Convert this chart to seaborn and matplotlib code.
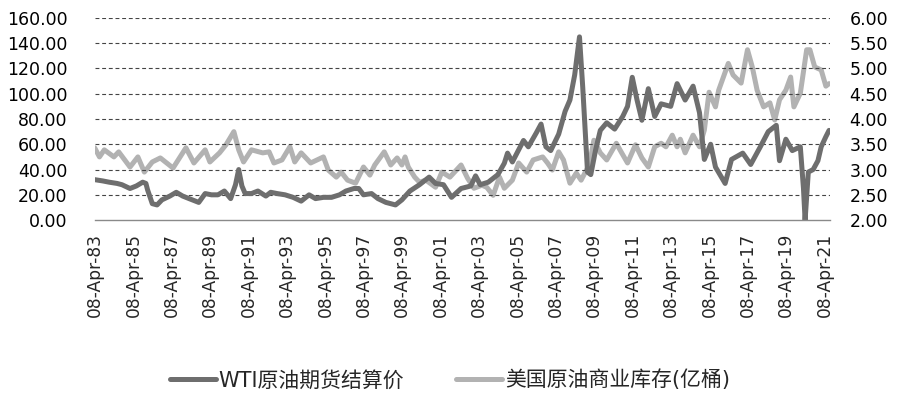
import matplotlib
matplotlib.use("Agg")
import matplotlib.pyplot as plt
import matplotlib.dates as mdates
import pandas as pd
import seaborn as sns

wti_dates = ["1983-04", "1983-09", "1984-01", "1984-06", "1984-09", "1985-02", "1985-06",
             "1985-10", "1985-12", "1986-01", "1986-04", "1986-07", "1986-10", "1987-03",
             "1987-07", "1987-11", "1988-03", "1988-09", "1989-01", "1989-05", "1989-09",
             "1990-01", "1990-05", "1990-08", "1990-10", "1990-12", "1991-02", "1991-06",
             "1991-10", "1992-03", "1992-06", "1992-10", "1993-03", "1993-08", "1994-01",
             "1994-06", "1994-10", "1995-03", "1995-08", "1996-01", "1996-05", "1996-10",
             "1997-01", "1997-04", "1997-09", "1998-01", "1998-06", "1998-12", "1999-04",
             "1999-09", "2000-03", "2000-09", "2001-01", "2001-06", "2001-11", "2002-05",
             "2002-11", "2003-02", "2003-05", "2003-10", "2004-04", "2004-08", "2004-10",
             "2005-01", "2005-08", "2005-11", "2006-04", "2006-07", "2006-10", "2007-01",
             "2007-06", "2007-10", "2008-01", "2008-04", "2008-07", "2008-09", "2008-12",
             "2009-02", "2009-05", "2009-08", "2009-12", "2010-05", "2010-10", "2011-01",
             "2011-04", "2011-07", "2011-10", "2012-02", "2012-06", "2012-10", "2013-04",
             "2013-08", "2014-01", "2014-06", "2014-10", "2015-01", "2015-05", "2015-08",
             "2016-02", "2016-06", "2017-01", "2017-06", "2017-12", "2018-05", "2018-10",
             "2018-12", "2019-04", "2019-08", "2020-01", "2020-03", "2020-04", "2020-06",
             "2020-09", "2020-12", "2021-02", "2021-05", "2021-07"]
wti_values = [32, 31, 30, 29, 28, 25, 27,
              30, 29, 24, 13, 12, 16, 19,
              22, 19, 17, 14, 21, 20, 20,
              23, 17, 28, 40, 27, 21, 21,
              23, 19, 22, 21, 20, 18, 15,
              20, 17, 18, 18, 20, 23, 25,
              25, 20, 21, 17, 14, 12, 16,
              23, 28, 34, 29, 28, 18, 25,
              27, 35, 28, 30, 36, 45, 53,
              46, 63, 58, 69, 76, 58, 55,
              68, 86, 95, 115, 145, 105, 38,
              36, 55, 71, 77, 72, 82, 90,
              113, 95, 79, 104, 82, 92, 90,
              108, 95, 106, 85, 48, 60, 42,
              29, 48, 53, 44, 58, 70, 75,
              47, 64, 55, 58, 25, 0, 38,
              40, 47, 58, 66, 71]

inv_dates = ["1983-04", "1983-07", "1983-10", "1984-04", "1984-07", "1985-02", "1985-07",
             "1985-11", "1986-04", "1986-09", "1987-05", "1988-01", "1988-06", "1989-01",
             "1989-04", "1989-10", "1990-02", "1990-07", "1990-10", "1991-01", "1991-06",
             "1992-01", "1992-05", "1992-08", "1993-01", "1993-06", "1993-09", "1994-01",
             "1994-07", "1995-03", "1995-06", "1995-11", "1996-02", "1996-06", "1996-11",
             "1997-04", "1997-08", "1997-11", "1998-05", "1998-09", "1999-01", "1999-04",
             "1999-06", "1999-08", "1999-12", "2000-03", "2000-07", "2001-01", "2001-05",
             "2001-10", "2002-05", "2002-09", "2003-01", "2003-06", "2003-09", "2004-01",
             "2004-05", "2004-08", "2005-01", "2005-05", "2005-10", "2006-02", "2006-08",
             "2006-11", "2007-02", "2007-06", "2007-09", "2008-01", "2008-05", "2008-08",
             "2008-12", "2009-02", "2009-04", "2009-08", "2009-12", "2010-06", "2010-09",
             "2011-01", "2011-06", "2011-10", "2012-02", "2012-06", "2012-10", "2013-01",
             "2013-05", "2013-08", "2013-10", "2014-01", "2014-06", "2014-10", "2015-01",
             "2015-04", "2015-08", "2015-10", "2016-04", "2016-07", "2016-12", "2017-04",
             "2017-07", "2017-10", "2018-02", "2018-06", "2018-09", "2018-12", "2019-04",
             "2019-07", "2019-09", "2020-01", "2020-05", "2020-07", "2020-10", "2021-02",
             "2021-05", "2021-07"]
inv_values = [3.43, 3.25, 3.39, 3.25, 3.35, 3.05, 3.25,
              2.95, 3.15, 3.23, 3.03, 3.43, 3.13, 3.39,
              3.15, 3.33, 3.49, 3.75, 3.39, 3.15, 3.39,
              3.33, 3.35, 3.13, 3.19, 3.45, 3.15, 3.33,
              3.13, 3.25, 2.99, 2.85, 2.95, 2.79, 2.73,
              3.05, 2.89, 3.09, 3.35, 3.09, 3.23, 3.09,
              3.25, 3.05, 2.85, 2.75, 2.79, 2.65, 2.95,
              2.85, 3.09, 2.83, 2.63, 2.69, 2.65, 2.49,
              2.85, 2.63, 2.79, 3.13, 2.95, 3.19, 3.25,
              3.13, 2.99, 3.35, 3.19, 2.73, 2.93, 2.79,
              3.03, 3.25, 3.58, 3.33, 3.19, 3.52, 3.35,
              3.13, 3.49, 3.23, 3.05, 3.45, 3.52, 3.45,
              3.68, 3.45, 3.60, 3.33, 3.68, 3.45, 3.78,
              4.53, 4.24, 4.57, 5.10, 4.87, 4.71, 5.37,
              5.03, 4.57, 4.24, 4.32, 3.98, 4.38, 4.57,
              4.83, 4.24, 4.51, 5.37, 5.37, 5.03, 4.97,
              4.65, 4.70]

left_ticks = [0, 20, 40, 60, 80, 100, 120, 140, 160]
right_ticks = [2.0, 2.5, 3.0, 3.5, 4.0, 4.5, 5.0, 5.5, 6.0]
tick_years = list(range(1983, 2022, 2))
wti_label = "WTI原油期货结算价"
inv_label = "美国原油商业库存(亿桶)"

sns.set_style("white")
plt.rcParams["font.family"] = ["DejaVu Sans", "Noto Sans CJK SC"]

wti = pd.DataFrame({"date": pd.to_datetime(wti_dates), "value": wti_values})
inv = pd.DataFrame({"date": pd.to_datetime(inv_dates), "value": inv_values})

dark = "#6e6e6e"
light = "#b2b2b2"

fig = plt.figure(figsize=(9, 3.98), dpi=100)
ax = fig.add_axes([0.1056, 0.447, 0.8167, 0.508])
ax2 = ax.twinx()

sns.lineplot(data=inv, x="date", y="value", ax=ax2, color=light, linewidth=3.6,
             label=inv_label, legend=False)
sns.lineplot(data=wti, x="date", y="value", ax=ax, color=dark, linewidth=3.6,
             label=wti_label, legend=False)
ax.set_zorder(ax2.get_zorder() + 1)
ax.patch.set_visible(False)

ax.set_ylim(0, 160)
ax2.set_ylim(2, 6)
ax.set_xlim(pd.Timestamp("1983-04-08"), pd.Timestamp("2021-07-20"))

ax.set_yticks(left_ticks)
ax.set_yticklabels([f"{v:.2f}" for v in left_ticks], fontsize=12.5)
ax2.set_yticks(right_ticks)
ax2.set_yticklabels([f"{v:.2f}" for v in right_ticks], fontsize=12.5)

ticks = [pd.Timestamp(f"{y}-04-08") for y in tick_years]
ax.set_xticks(ticks)
ax.xaxis.set_major_formatter(mdates.DateFormatter("%d-%b-%y"))
for lab in ax.get_xticklabels():
    lab.set_rotation(90)
    lab.set_fontsize(12.3)

ax.set_xlabel("")
ax.set_ylabel("")
ax2.set_ylabel("")

for a in (ax, ax2):
    for s in ("top", "left", "right", "bottom"):
        a.spines[s].set_visible(False)
ax.spines["bottom"].set_visible(True)
ax.spines["bottom"].set_color("#8a8a8a")
ax.spines["bottom"].set_linewidth(1.0)

ax.tick_params(axis="y", length=0, pad=20, colors="black")
ax2.tick_params(axis="y", length=0, pad=14, colors="black")
ax.tick_params(axis="x", length=5, width=1, color="#8a8a8a", direction="out", pad=4)

for v in left_ticks[1:]:
    ax.axhline(v, color="#444444", linewidth=0.8, linestyle=(0, (3.5, 2.5)), zorder=0)

handles = [ax.get_lines()[0], ax2.get_lines()[0]]
fig.legend(handles, [wti_label, inv_label], loc="center", bbox_to_anchor=(0.5, 0.045),
           ncol=2, frameon=False, fontsize=15, handlelength=2.2, columnspacing=2.5,
           handletextpad=0.15)

fig.savefig("out.png", dpi=100)
